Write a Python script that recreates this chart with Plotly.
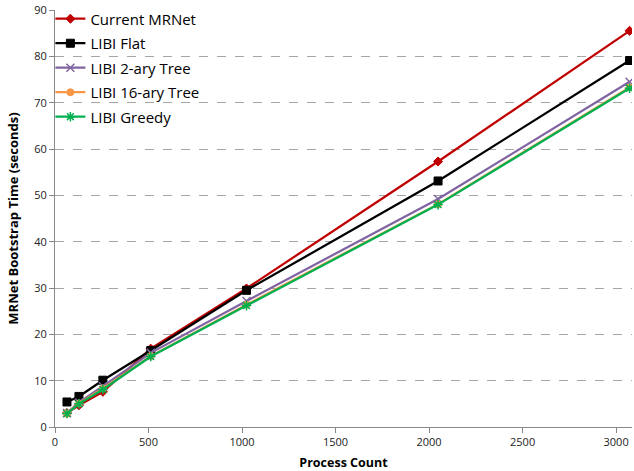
import plotly.graph_objects as go

process_count = [64, 128, 256, 512, 1024, 2048, 3072]
current_mrnet = [3.0, 4.7, 7.6, 16.9, 29.9, 57.3, 85.5]
libi_flat = [5.4, 6.6, 10.1, 16.5, 29.5, 53.1, 79.1]
libi_2ary = [3.0, 5.3, 8.8, 16.0, 27.2, 49.2, 74.5]
libi_16ary = [2.9, 5.1, 8.3, 15.3, 26.4, 48.1, 73.3]
libi_greedy = [2.9, 5.0, 8.1, 15.2, 26.2, 48.0, 73.1]

series = [
    ("Current MRNet", current_mrnet, "#C00000", "diamond", 7, 1),
    ("LIBI Flat", libi_flat, "#000000", "square", 8, 1),
    ("LIBI 2-ary Tree", libi_2ary, "#8064A2", "x-thin-open", 8, 1.5),
    ("LIBI 16-ary Tree", libi_16ary, "#F79646", "circle", 7, 1),
    ("LIBI Greedy", libi_greedy, "#00B050", "asterisk-open", 8, 1.5),
]

fig = go.Figure()
for i, (name, ys, color, sym, size, lw) in enumerate(series):
    fig.add_trace(go.Scatter(
        x=process_count, y=ys, name=name, mode="lines+markers",
        legendgroup=f"g{i}",
        line=dict(color=color, width=2.25),
        marker=dict(symbol=sym, size=size, color=color,
                    line=dict(color=color, width=lw)),
    ))

font_family = "Open Sans, Liberation Sans, sans-serif"
fig.update_layout(
    width=634, height=471,
    margin=dict(l=55, r=2, t=10, b=44),
    paper_bgcolor="white", plot_bgcolor="white",
    font=dict(family=font_family, size=11, color="#222222"),
    showlegend=True,
    legend=dict(
        x=-0.008, y=1.018, xanchor="left", yanchor="top",
        bgcolor="rgba(0,0,0,0)", font=dict(size=15, color="#000000"),
        tracegroupgap=2, itemwidth=30,
    ),
    xaxis=dict(
        range=[0, 3085], tickvals=[0, 500, 1000, 1500, 2000, 2500, 3000],
        showgrid=False, zeroline=False,
        showline=True, linecolor="#888888", linewidth=1,
        ticks="outside", ticklen=5, tickcolor="#888888",
        title=dict(text="<b>Process Count</b>", font=dict(size=12.5, color="#000000"), standoff=10),
    ),
    yaxis=dict(
        range=[0, 90], tickvals=list(range(0, 91, 10)),
        showgrid=True, gridcolor="#A6A6A6", griddash="dash", gridwidth=1,
        zeroline=False,
        showline=True, linecolor="#888888", linewidth=1,
        ticks="outside", ticklen=5, tickcolor="#888888",
        title=dict(text="<b>MRNet Bootstrap Time (seconds)</b>", font=dict(size=13, color="#000000"), standoff=12),
    ),
)

fig.write_html("out.html")
